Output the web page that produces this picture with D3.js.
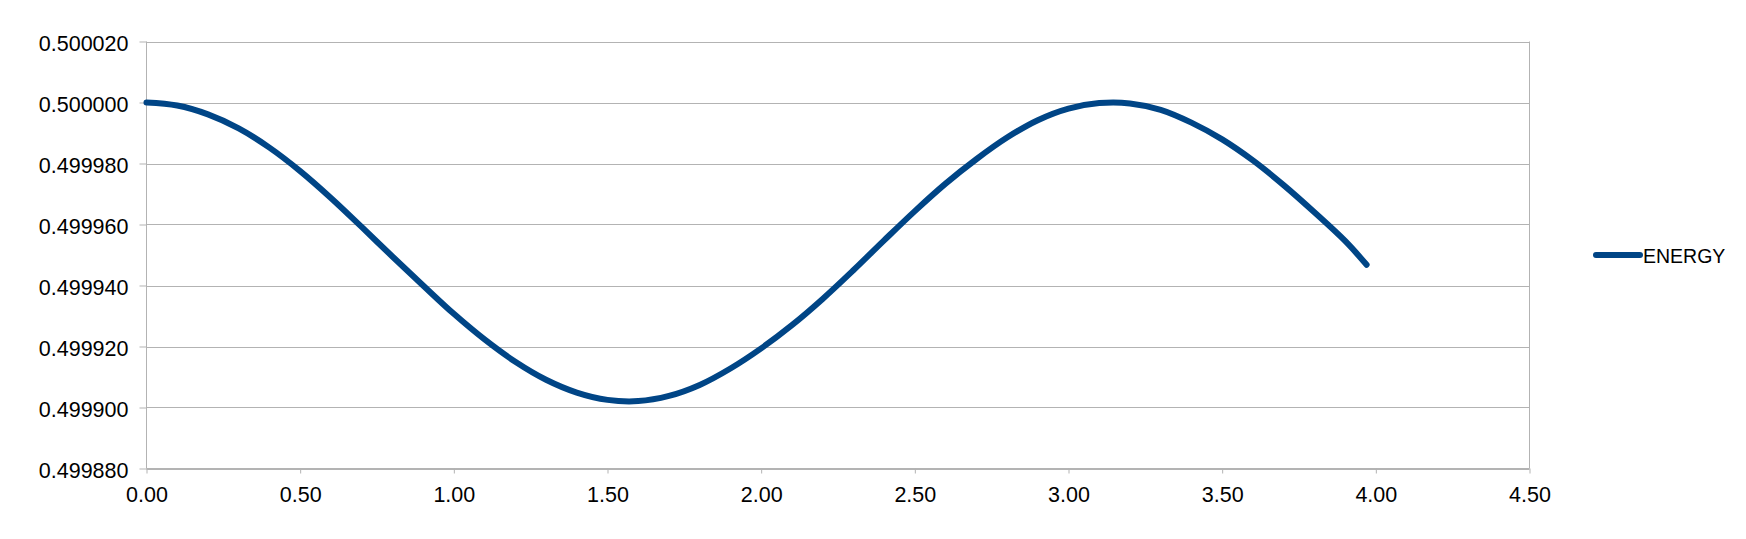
<!DOCTYPE html>
<html>
<head>
<meta charset="utf-8">
<script src="https://cdn.jsdelivr.net/npm/d3@7"></script>
<style>
  html, body { margin: 0; padding: 0; background: #fff; }
  svg { display: block; }
  text { font-family: "Liberation Sans", Arial, sans-serif; fill: #000; }
</style>
</head>
<body>
<svg id="chart" width="1746" height="539"></svg>
<script>
// ---- data ----
const seriesName = "ENERGY";
const timeValues = [0.0, 0.1, 0.2, 0.3, 0.4, 0.5, 0.6, 0.7, 0.8, 0.9,
                    1.0, 1.1, 1.2, 1.3, 1.4, 1.5, 1.6, 1.7, 1.8, 1.9,
                    2.0, 2.1, 2.2, 2.3, 2.4, 2.5, 2.6, 2.7, 2.8, 2.9,
                    3.0, 3.1, 3.2, 3.3, 3.4, 3.5, 3.6, 3.7, 3.8, 3.9, 3.97];
const energyValues = [0.5000000, 0.4999990, 0.4999961, 0.4999915, 0.4999852,
                      0.4999775, 0.4999687, 0.4999592, 0.4999495, 0.4999400,
                      0.4999307, 0.4999223, 0.4999150, 0.4999091, 0.4999049,
                      0.4999025, 0.4999021, 0.4999038, 0.4999074, 0.4999128,
                      0.4999194, 0.4999270, 0.4999356, 0.4999450, 0.4999548,
                      0.4999644, 0.4999734, 0.4999814, 0.4999885, 0.4999942,
                      0.4999980, 0.4999998, 0.4999997, 0.4999976, 0.4999934,
                      0.4999879, 0.4999810, 0.4999729, 0.4999640, 0.4999546,
                      0.4999468];
const xTickValues = [0, 0.5, 1.0, 1.5, 2.0, 2.5, 3.0, 3.5, 4.0, 4.5];
const yTickValues = [0.49988, 0.49990, 0.49992, 0.49994, 0.49996, 0.49998, 0.50000, 0.50002];

// ---- layout ----
const plotLeft = 146.5, plotRight = 1529.5, plotTop = 41.5, plotBottom = 468.5;
const gridColor = "#b3b3b3";
const lineColor = "#004586";
const labelFont = "'Liberation Sans', Arial, sans-serif";

const svg = d3.select("#chart");

const x = d3.scaleLinear().domain([0, 4.5]).range([plotLeft, plotRight]);
const y = d3.scaleLinear().domain([0.49988, 0.50002]).range([plotBottom, plotTop]);

// horizontal gridlines
svg.append("g")
  .selectAll("line")
  .data(yTickValues)
  .join("line")
  .attr("x1", plotLeft).attr("x2", plotRight)
  .attr("y1", d => Math.round(y(d)) + 0.5).attr("y2", d => Math.round(y(d)) + 0.5)
  .attr("stroke", gridColor).attr("stroke-width", 1);

// right wall border
svg.append("line")
  .attr("x1", plotRight).attr("x2", plotRight)
  .attr("y1", plotTop).attr("y2", plotBottom)
  .attr("stroke", gridColor).attr("stroke-width", 1);

// y axis
const yAxis = d3.axisLeft(y)
  .tickValues(yTickValues)
  .tickSize(7)
  .tickPadding(11)
  .tickFormat(d3.format(".6f"));
const gy = svg.append("g")
  .attr("transform", `translate(${plotLeft},0)`)
  .call(yAxis);
gy.select(".domain").attr("stroke", gridColor).attr("d", `M-0,${plotTop}V${plotBottom}`);
gy.selectAll(".tick line").attr("stroke", gridColor);
gy.selectAll(".tick text")
  .attr("font-size", 21.5)
  .attr("font-family", labelFont)
  .attr("fill", "#000")
  .attr("dy", "0.4em");

// x axis
const xAxis = d3.axisBottom(x)
  .tickValues(xTickValues)
  .tickSize(5)
  .tickPadding(13)
  .tickFormat(d3.format(".2f"));
const gx = svg.append("g")
  .attr("transform", `translate(0,${plotBottom})`)
  .call(xAxis);
gx.select(".domain").attr("stroke", gridColor).attr("d", `M${plotLeft},0H${plotRight}`);
gx.selectAll(".tick line").attr("stroke", gridColor);
gx.selectAll(".tick text")
  .attr("font-size", 21.5)
  .attr("font-family", labelFont)
  .attr("fill", "#000");

// series line
const data = timeValues.map((t, i) => ({ t, e: energyValues[i] }));
const line = d3.line()
  .x(d => x(d.t))
  .y(d => y(d.e))
  .curve(d3.curveCatmullRom.alpha(0.5));
svg.append("path")
  .datum(data)
  .attr("fill", "none")
  .attr("stroke", lineColor)
  .attr("stroke-width", 6)
  .attr("stroke-linecap", "round")
  .attr("stroke-linejoin", "round")
  .attr("d", line);

// legend
const legend = svg.append("g").attr("transform", "translate(1596,255)");
legend.append("line")
  .attr("x1", 0).attr("x2", 44).attr("y1", 0).attr("y2", 0)
  .attr("stroke", lineColor).attr("stroke-width", 6)
  .attr("stroke-linecap", "round");
legend.append("text")
  .attr("x", 47).attr("y", 8)
  .attr("font-size", 19.5)
  .attr("font-family", labelFont)
  .text(seriesName);
</script>
</body>
</html>
